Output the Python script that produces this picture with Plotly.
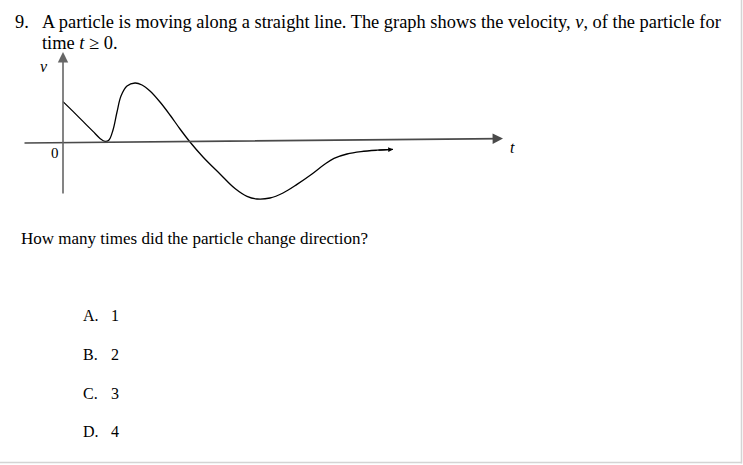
import plotly.graph_objects as go

W, H = 743, 465

# velocity curve (t, v in arbitrary units)
t_vals = [0.0, 0.5, 1.0, 1.5, 1.85, 2.1, 2.3, 2.5, 2.7, 2.9, 3.2, 3.6, 3.95, 4.35, 4.85,
          5.35, 5.85, 6.35, 7.0, 7.85, 8.6, 9.2, 9.7, 10.35, 11.0, 11.7, 12.45, 13.1,
          13.55, 14.2, 14.9, 15.7, 16.5]
v_vals = [2.02, 1.53, 1.03, 0.53, 0.18, 0.03, 0.1, 0.6, 1.5, 2.3, 2.8, 2.95, 2.85, 2.55, 2.0,
          1.35, 0.65, 0.0, -0.75, -1.6, -2.33, -2.72, -2.85, -2.8, -2.55, -2.12, -1.6, -1.1,
          -0.82, -0.6, -0.48, -0.41, -0.37]

t_axis_ext = [-2.0, 22.0]
v_axis_ext = [-2.65, 4.5]

question_num = "9."
question = "A particle is moving along a straight line. The graph shows the velocity, <i>v</i>, of the particle for"
question2 = "time <i>t</i> ≥ 0."
prompt = "How many times did the particle change direction?"
option_letters = ["A.", "B.", "C.", "D."]
option_values = ["1", "2", "3", "4"]

# pixel mapping: origin at (63,142), 20 px per unit
X0, Y0, K = 63, 142, 20
xr = [-X0 / K, (W - X0) / K]
yr = [(Y0 - H) / K, Y0 / K]

fig = go.Figure()
fig.add_trace(go.Scatter(x=t_vals, y=v_vals, mode="lines",
                         line=dict(color="black", width=1.3, shape="spline", smoothing=1.0),
                         hoverinfo="skip"))

ann = []
# axes with arrowheads
ann.append(dict(x=t_axis_ext[1], y=0.17, ax=t_axis_ext[0], ay=-0.05, xref="x", yref="y",
                axref="x", ayref="y", showarrow=True, arrowhead=2, arrowsize=1.3,
                arrowwidth=1.6, arrowcolor="#4a4a4a", text=""))
ann.append(dict(x=0, y=v_axis_ext[1], ax=0, ay=v_axis_ext[0], xref="x", yref="y",
                axref="x", ayref="y", showarrow=True, arrowhead=2, arrowsize=1.3,
                arrowwidth=1.6, arrowcolor="#666666", text=""))
# end arrow of curve
ann.append(dict(x=t_vals[-1], y=v_vals[-1], ax=t_vals[-2], ay=v_vals[-2], xref="x", yref="y",
                axref="x", ayref="y", showarrow=True, arrowhead=2, arrowsize=0.8,
                arrowwidth=1.2, arrowcolor="black", text=""))

serif = "Liberation Serif"
ann.append(dict(x=-0.95, y=3.8, xref="x", yref="y", text="<i>v</i>", showarrow=False,
                font=dict(family=serif, size=16, color="black")))
ann.append(dict(x=-0.4, y=-0.55, xref="x", yref="y", text="0", showarrow=False,
                font=dict(family=serif, size=15, color="black")))
ann.append(dict(x=22.45, y=-0.25, xref="x", yref="y", text="<i>t</i>", showarrow=False,
                font=dict(family=serif, size=16, color="black")))

def px(x, y):
    return x / W, 1 - y / H

for txt, (x, y), size in [(question_num, (13, 21.5), 18.4), (question, (40, 21.5), 18.4),
                          (question2, (40, 43.5), 18.4), (prompt, (19, 238), 17)]:
    xx, yy = px(x, y)
    ann.append(dict(x=xx, y=yy, xref="paper", yref="paper", text=txt, showarrow=False,
                    xanchor="left", yanchor="middle",
                    font=dict(family=serif, size=size, color="black")))

opt_y = [315.5, 354, 393, 431.5]
for letter, val, y in zip(option_letters, option_values, opt_y):
    xx, yy = px(80.5, y)
    ann.append(dict(x=xx, y=yy, xref="paper", yref="paper", text=letter, showarrow=False,
                    xanchor="left", yanchor="middle",
                    font=dict(family=serif, size=16, color="black")))
    xx, yy = px(108.5, y)
    ann.append(dict(x=xx, y=yy, xref="paper", yref="paper", text=val, showarrow=False,
                    xanchor="left", yanchor="middle",
                    font=dict(family=serif, size=16, color="black")))

shapes = [
    dict(type="line", xref="paper", yref="paper", x0=1 - 1.5 / W, x1=1 - 1.5 / W, y0=1, y1=1.5 / H,
         line=dict(color="#d4d4d4", width=1.5)),
    dict(type="line", xref="paper", yref="paper", x0=0, x1=1 - 1.5 / W, y0=2.5 / H, y1=2.5 / H,
         line=dict(color="#d4d4d4", width=1.5)),
]

fig.update_layout(
    width=W, height=H, margin=dict(l=0, r=0, t=0, b=0),
    paper_bgcolor="white", plot_bgcolor="white", showlegend=False,
    xaxis=dict(range=xr, visible=False, fixedrange=True),
    yaxis=dict(range=yr, visible=False, fixedrange=True),
    annotations=ann, shapes=shapes,
)

fig.write_html("out.html", config={"displayModeBar": False},
               post_script="document.body.style.margin='0';document.body.style.overflow='hidden';")
